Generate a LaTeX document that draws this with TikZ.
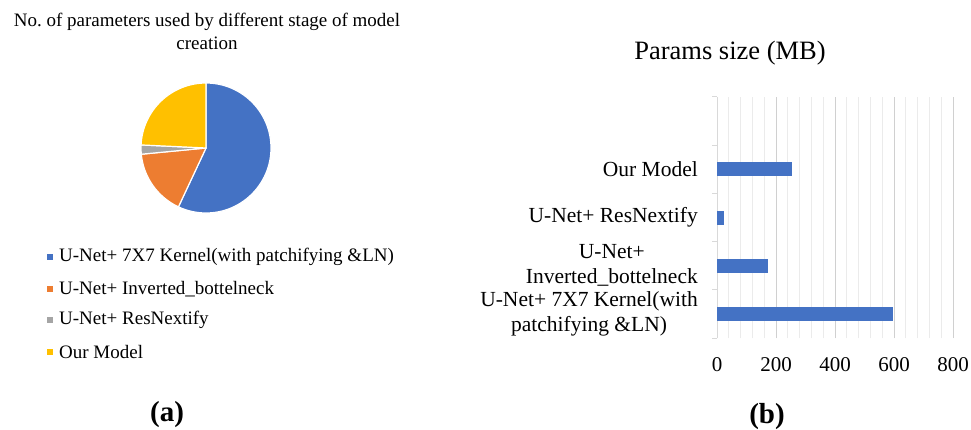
\documentclass[tikz,border=0pt]{standalone}
\usepackage{fontspec}
\setmainfont{Liberation Serif}
\definecolor{pieblue}{HTML}{4472C4}
\definecolor{pieorange}{HTML}{ED7D31}
\definecolor{piegray}{HTML}{A5A5A5}
\definecolor{pieyellow}{HTML}{FFC000}
\definecolor{minorgrid}{HTML}{EBEBEB}
\definecolor{majorgrid}{HTML}{D0D0D0}
\definecolor{axisgray}{HTML}{D9D9D9}
\tikzset{
  slice/.style={draw=white, line width=1.2pt},
  legbox/.style={minimum size=6pt, inner sep=0pt},
  legtext/.style={anchor=west, inner sep=0pt, font=\fontsize{19}{23}\selectfont},
  catlabel/.style={anchor=east, align=center, inner sep=0pt, font=\fontsize{21.5}{25}\selectfont},
  ticklabel/.style={font=\fontsize{21}{25}\selectfont},
  sublabel/.style={font=\fontsize{29}{34}\selectfont\bfseries}
}
\begin{document}
\begin{tikzpicture}[x=1pt,y=1pt]
  \useasboundingbox[fill=white] (0,0) rectangle (971,429);

  % (a) pie chart
  \node (pietitle) at (207,397.5) [align=center, font=\fontsize{19}{23}\selectfont]
    {No.\ of parameters used by different stage of model\\creation};

  \coordinate (pc) at (206,281);
  \filldraw[slice, fill=pieblue] (pc) -- ++(90:65) arc[start angle=90, end angle=-115.1, radius=65] -- cycle;
  \filldraw[slice, fill=pieorange] (pc) -- ++(-115.1:65) arc[start angle=-115.1, end angle=-174.5, radius=65] -- cycle;
  \filldraw[slice, fill=piegray] (pc) -- ++(-174.5:65) arc[start angle=-174.5, end angle=-182.7, radius=65] -- cycle;
  \filldraw[slice, fill=pieyellow] (pc) -- ++(177.3:65) arc[start angle=177.3, end angle=90, radius=65] -- cycle;

  \node (lb1) at (50,172) [legbox, fill=pieblue]{};
  \node (lb2) at (50,140) [legbox, fill=pieorange]{};
  \node (lb3) at (50,109) [legbox, fill=piegray]{};
  \node (lb4) at (50,77) [legbox, fill=pieyellow]{};
  \node (lt1) at (59,172) [legtext]{U-Net+ 7X7 Kernel(with patchifying \&LN)};
  \node (lt2) at (59,140) [legtext]{U-Net+ Inverted\_bottelneck};
  \node (lt3) at (59,109) [legtext]{U-Net+ ResNextify};
  \node (lt4) at (59,77) [legtext]{Our Model};

  \node (suba) at (167,14) [sublabel]{(a)};

  % (b) bar chart
  \node (bartitle) at (730,376) [font=\fontsize{26.5}{30}\selectfont]{Params size (MB)};

  \foreach \v in {40,80,...,760}
    \draw[minorgrid, line width=1pt] (717+\v*0.295,91) -- (717+\v*0.295,332);
  \foreach \v in {200,400,600,800}
    \draw[majorgrid, line width=1pt] (717+\v*0.295,91) -- (717+\v*0.295,332);

  \draw[axisgray, line width=1pt] (717,91) -- (717,332);
  \draw[axisgray, line width=1pt] (712,332) -- (717,332);
  \draw[axisgray, line width=1pt] (712,283.8) -- (717,283.8);
  \draw[axisgray, line width=1pt] (712,235.6) -- (717,235.6);
  \draw[axisgray, line width=1pt] (712,187.4) -- (717,187.4);
  \draw[axisgray, line width=1pt] (712,139.2) -- (717,139.2);
  \draw[axisgray, line width=1pt] (712,91) -- (717,91);

  \fill[pieblue] (717,252.7) rectangle (791.9,266.7);
  \fill[pieblue] (717,204.5) rectangle (724.1,218.5);
  \fill[pieblue] (717,156.3) rectangle (768,170.3);
  \fill[pieblue] (717,108.1) rectangle (893.1,122.1);

  \node (c1) at (698,259.7) [catlabel]{Our Model};
  \node (c2) at (698,211.5) [catlabel]{U-Net+ ResNextify};
  \node (c3) at (698,163.3) [catlabel]{U-Net+\\Inverted\_bottelneck};
  \node (c4) at (698,115.1) [catlabel]{U-Net+ 7X7 Kernel(with\\patchifying \&LN)};

  \node (t0) at (717,64) [ticklabel]{0};
  \node (t200) at (776,64) [ticklabel]{200};
  \node (t400) at (835,64) [ticklabel]{400};
  \node (t600) at (894,64) [ticklabel]{600};
  \node (t800) at (953,64) [ticklabel]{800};

  \node (subb) at (767,12) [sublabel]{(b)};
\end{tikzpicture}
\end{document}
